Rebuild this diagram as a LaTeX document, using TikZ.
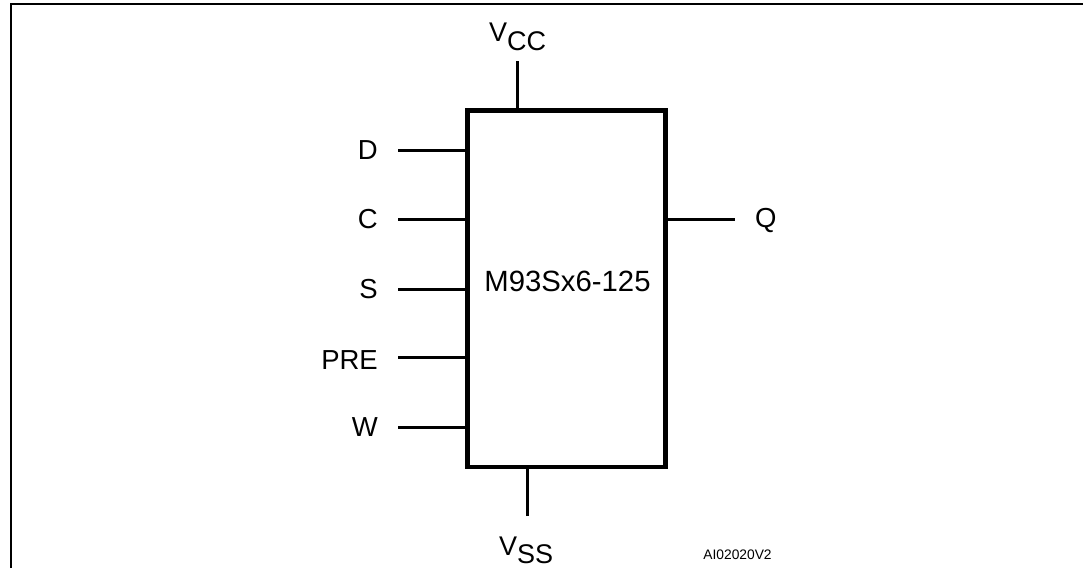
\documentclass[tikz,border=0pt]{standalone}
\usepackage{fontspec}
\setmainfont{Liberation Sans}
\usetikzlibrary{positioning}
\tikzset{
	pinline/.style={line width=3pt},
	pinlabel/.style={font=\fontsize{27.5}{30}\selectfont,anchor=east,inner sep=0pt},
	supplylabel/.style={font=\fontsize{27}{30}\selectfont,anchor=base west,inner sep=0pt},
	chipbox/.style={draw,line width=4.5pt,minimum width=198pt,minimum height=356.5pt,inner sep=0pt}
}
\begin{document}
\begin{tikzpicture}[x=1pt,y=-1pt]
	\useasboundingbox (0,0) rectangle (1083,568);
	\draw[line width=2pt] (11,568)--(11,4)--(1083,4);
	\node[chipbox] (chip) at (566.5,288.75) {};
	\node[font=\fontsize{29.3}{32}\selectfont,inner sep=0pt] (chiplab) at (567.5,281) {M93Sx6-125};
	% inputs
	\coordinate (d) at (398,150);
	\coordinate (c) at (398,219);
	\coordinate (s) at (398,289);
	\coordinate (pre) at (398,357);
	\coordinate (w) at (398,427);
	\foreach \pinname/\pintext/\laby in {d/D/150,c/C/219.5,s/S/289,pre/PRE/360,w/W/427}{
		\node[pinlabel] (\pinname lab) at (378,\laby) {\pintext};
		\draw[pinline] (\pinname)--(\pinname -| chip.west);
	}
	% output
	\coordinate (q) at (735,219);
	\draw[pinline] (chip.east |- q)--(q);
	\node[pinlabel,anchor=west] (qlab) at (755,220) {Q};
	% supply
	\coordinate (vcc) at (517,61);
	\coordinate (vss) at (527,516);
	\draw[pinline] (vcc)--(vcc |- chip.north);
	\draw[pinline] (vss)--(vss |- chip.south);
	\node[supplylabel] (vcclab) at (489,41) {V\raisebox{-9.5pt}{CC}};
	\node[supplylabel] (vsslab) at (499,555) {V\raisebox{-8.5pt}{SS}};
	\node[font=\fontsize{13.8}{15}\selectfont,inner sep=0pt] (code) at (737.5,555) {AI02020V2};
\end{tikzpicture}
\end{document}
